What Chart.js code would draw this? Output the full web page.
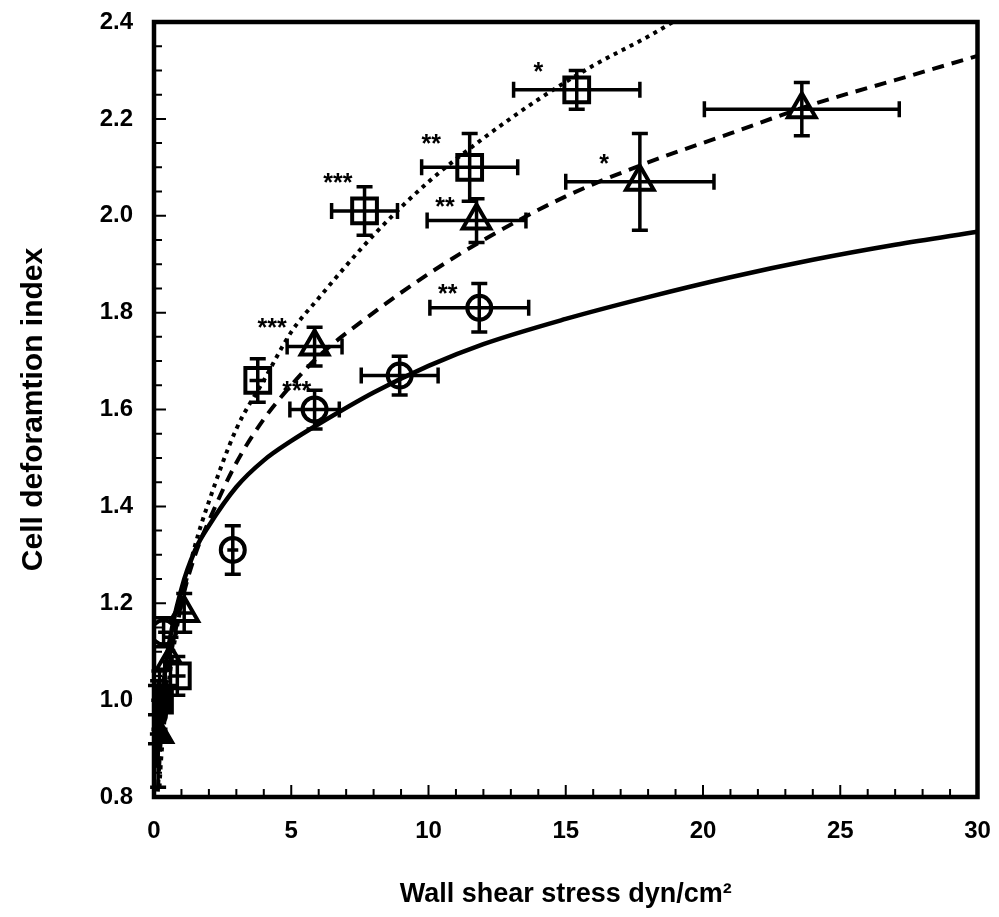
<!DOCTYPE html>
<html>
<head>
<meta charset="utf-8">
<script src="https://cdn.jsdelivr.net/npm/chart.js@4.4.1/dist/chart.umd.min.js"></script>
<style>
  html, body { margin: 0; padding: 0; background: #fff; }
</style>
</head>
<body>
<canvas id="chart" width="999" height="917"></canvas>
<script>
// axis ticks
const xTicks = [0, 5, 10, 15, 20, 25, 30];
const yTicks = [0.8, 1.0, 1.2, 1.4, 1.6, 1.8, 2.0, 2.2, 2.4];

// circles (solid fit)
const circleX = [0, 0.35, 2.87, 5.85, 8.95, 11.85];
const circleY = [0.97, 1.14, 1.31, 1.60, 1.67, 1.81];
const circleXErr = [0.3, 0.2, 0.2, 0.9, 1.4, 1.8];
const circleYErr = [0.06, 0.03, 0.05, 0.04, 0.04, 0.05];

// squares (dotted fit)
const squareX = [0.2, 0.85, 3.78, 7.67, 11.5, 15.4];
const squareY = [1.00, 1.05, 1.66, 2.01, 2.10, 2.26];
const squareXErr = [0.3, 0.3, 0.3, 1.2, 1.75, 2.3];
const squareYErr = [0.06, 0.04, 0.045, 0.05, 0.07, 0.04];

// triangles (dashed fit)
const triangleX = [0.15, 0.6, 1.1, 5.85, 11.75, 17.7, 23.6];
const triangleY = [0.93, 1.08, 1.18, 1.73, 1.99, 2.07, 2.22];
const triangleXErr = [0.3, 0.3, 0.3, 1.0, 1.8, 2.7, 3.55];
const triangleYErr = [0.11, 0.05, 0.04, 0.04, 0.045, 0.1, 0.055];

// fitted curves
const fitX = [0.1, 0.25, 0.5, 1, 1.5, 2, 3, 4, 5, 6, 8, 10, 12, 15, 18, 21, 24, 27, 30];
const solidY = [0.86, 0.98, 1.10, 1.23, 1.31, 1.36, 1.44, 1.495, 1.535, 1.57, 1.635, 1.69, 1.735, 1.787, 1.832, 1.873, 1.909, 1.94, 1.967];
const dashedY = [0.77, 0.92, 1.05, 1.20, 1.30, 1.37, 1.49, 1.58, 1.65, 1.71, 1.80, 1.88, 1.95, 2.04, 2.11, 2.17, 2.23, 2.28, 2.33];
const dottedX = [0.2, 0.25, 0.5, 1, 1.5, 2, 3, 4, 5, 6, 8, 10, 12, 14, 16, 18, 19.5];
const dottedY = [0.82, 0.87, 1.02, 1.20, 1.32, 1.41, 1.56, 1.66, 1.76, 1.83, 1.96, 2.07, 2.16, 2.24, 2.31, 2.37, 2.42];

// significance marks
const starText = ['***', '**', '*', '**', '*', '***', '***', '**'];
const starX = [6.7, 10.1, 14.0, 10.6, 16.4, 4.3, 5.2, 10.7];
const starY = [2.08, 2.16, 2.31, 2.03, 2.12, 1.78, 1.65, 1.85];

const toPoints = (xs, ys) => xs.map((x, i) => ({ x: x, y: ys[i] }));
// the overlapping points at the origin print as solid black
const fills = xs => xs.map((x, i) => (i === 0 ? '#000' : '#fff'));
const fontFamily = "'Liberation Sans', Arial, Helvetica, sans-serif";

const errorBars = {
    id: 'errorBars',
    afterDatasetsDraw(chart) {
        const { ctx, chartArea, scales: { x, y } } = chart;
        ctx.save();
        ctx.beginPath();
        ctx.rect(chartArea.left - 6, chartArea.top - 10, chartArea.right - chartArea.left + 6, chartArea.bottom - chartArea.top + 10);
        ctx.clip();
        ctx.strokeStyle = '#000';
        ctx.lineWidth = 3.5;
        chart.data.datasets.forEach(ds => {
            if (!ds.xErr) return;
            ds.data.forEach((p, i) => {
                const cx = x.getPixelForValue(p.x);
                const cy = y.getPixelForValue(p.y);
                const x0 = x.getPixelForValue(p.x - ds.xErr[i]);
                const x1 = x.getPixelForValue(p.x + ds.xErr[i]);
                const y0 = y.getPixelForValue(p.y - ds.yErr[i]);
                const y1 = y.getPixelForValue(p.y + ds.yErr[i]);
                ctx.beginPath();
                ctx.moveTo(x0, cy); ctx.lineTo(x1, cy);
                ctx.moveTo(cx, y0); ctx.lineTo(cx, y1);
                if (x1 - cx > ds.pointRadius - 2) {
                    ctx.moveTo(x0, cy - 8); ctx.lineTo(x0, cy + 8);
                    ctx.moveTo(x1, cy - 8); ctx.lineTo(x1, cy + 8);
                }
                if (y0 - cy > 6) {
                    ctx.moveTo(cx - 8, y0); ctx.lineTo(cx + 8, y0);
                    ctx.moveTo(cx - 8, y1); ctx.lineTo(cx + 8, y1);
                }
                ctx.stroke();
            });
        });
        ctx.restore();
    }
};

const stars = {
    id: 'stars',
    afterDatasetsDraw(chart) {
        const { ctx, scales: { x, y } } = chart;
        ctx.save();
        ctx.fillStyle = '#000';
        ctx.font = 'bold 25px ' + fontFamily;
        ctx.textAlign = 'center';
        ctx.textBaseline = 'alphabetic';
        starText.forEach((t, i) => {
            ctx.fillText(t, x.getPixelForValue(starX[i]), y.getPixelForValue(starY[i]) + 14);
        });
        ctx.restore();
    }
};

const frame = {
    id: 'frame',
    afterDraw(chart) {
        const { ctx, chartArea: a, scales: { x, y } } = chart;
        ctx.save();
        ctx.strokeStyle = '#000';
        ctx.lineWidth = 2;
        ctx.beginPath();
        for (let v = 0; v <= 30; v++) {
            const px = x.getPixelForValue(v);
            ctx.moveTo(px, a.bottom);
            ctx.lineTo(px, a.bottom - (v % 5 === 0 ? 12 : 8));
        }
        for (let k = 0; k <= 32; k++) {
            const py = y.getPixelForValue(0.8 + k * 0.05);
            ctx.moveTo(a.left, py);
            ctx.lineTo(a.left + (k % 4 === 0 ? 12 : 8), py);
        }
        ctx.stroke();
        ctx.lineWidth = 4.5;
        ctx.strokeRect(a.left, a.top, a.right - a.left, a.bottom - a.top);
        ctx.restore();
    }
};

new Chart(document.getElementById('chart'), {
    type: 'scatter',
    data: {
        datasets: [
            {
                type: 'line', data: toPoints(fitX, solidY), borderColor: '#000', borderWidth: 4.5,
                pointRadius: 0, fill: false, cubicInterpolationMode: 'monotone', clip: 0
            },
            {
                type: 'line', data: toPoints(fitX, dashedY), borderColor: '#000', borderWidth: 4,
                borderDash: [12, 8], pointRadius: 0, fill: false, cubicInterpolationMode: 'monotone', clip: 0
            },
            {
                type: 'line', data: toPoints(dottedX, dottedY), borderColor: '#000', borderWidth: 4,
                borderDash: [4, 5], pointRadius: 0, fill: false, cubicInterpolationMode: 'monotone', clip: 0
            },
            {
                data: toPoints(circleX, circleY), xErr: circleXErr, yErr: circleYErr,
                pointStyle: 'circle', pointRadius: 12, borderColor: '#000', backgroundColor: fills(circleX), borderWidth: 4
            },
            {
                data: toPoints(squareX, squareY), xErr: squareXErr, yErr: squareYErr,
                pointStyle: 'rect', pointRadius: 17.5, borderColor: '#000', backgroundColor: fills(squareX), borderWidth: 4
            },
            {
                data: toPoints(triangleX, triangleY), xErr: triangleXErr, yErr: triangleYErr,
                pointStyle: 'triangle', pointRadius: 16, borderColor: '#000', backgroundColor: fills(triangleX), borderWidth: 4
            }
        ]
    },
    options: {
        responsive: false,
        animation: false,
        layout: { padding: { top: 22, right: 20, left: 0, bottom: 0 } },
        plugins: { legend: { display: false }, tooltip: { enabled: false } },
        scales: {
            x: {
                type: 'linear', min: 0, max: 30,
                afterBuildTicks: s => { s.ticks = xTicks.map(v => ({ value: v })); },
                afterFit: s => { s.height = 120; s.paddingLeft = 0; s.paddingRight = 0; },
                grid: { display: false }, border: { display: false },
                ticks: { color: '#000', padding: 12, maxRotation: 0, autoSkip: false,
                    font: { family: fontFamily, size: 24, weight: 'bold' } },
                title: { display: true, text: 'Wall shear stress dyn/cm²', color: '#000',
                    padding: { top: 6, bottom: 6 },
                    font: { family: fontFamily, size: 27, weight: 'bold' } }
            },
            y: {
                type: 'linear', min: 0.8, max: 2.4,
                afterBuildTicks: s => { s.ticks = yTicks.map(v => ({ value: v })); },
                afterFit: s => { s.width = 154; s.paddingTop = 0; s.paddingBottom = 0; },
                grid: { display: false }, border: { display: false },
                ticks: { color: '#000', padding: 13, autoSkip: false, callback: v => v.toFixed(1),
                    font: { family: fontFamily, size: 24, weight: 'bold' } },
                title: { display: true, text: 'Cell deforamtion index', color: '#000',
                    padding: { top: 16, bottom: 16 },
                    font: { family: fontFamily, size: 30, weight: 'bold' } }
            }
        }
    },
    plugins: [errorBars, stars, frame]
});
</script>
</body>
</html>
